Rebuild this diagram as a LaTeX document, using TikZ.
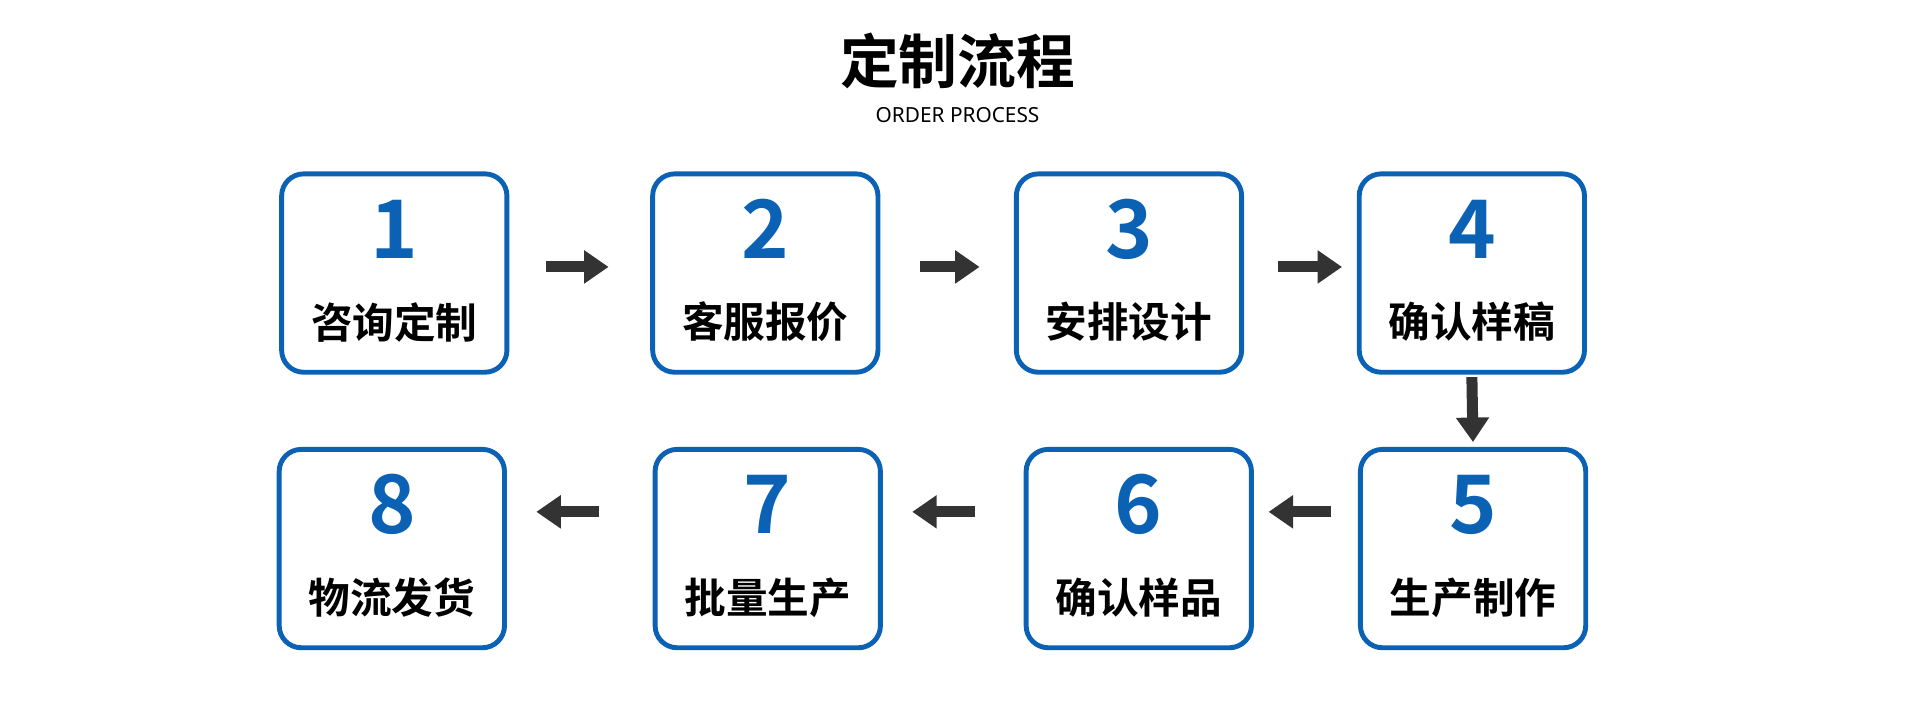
\documentclass[tikz,border=0pt]{standalone}
\usepackage{fontspec}
\setmainfont{Noto Sans}
\newfontfamily\cjk{Noto Sans CJK SC}[BoldFont={* Bold}]
\usetikzlibrary{positioning,arrows.meta}
\definecolor{stepblue}{HTML}{0B62B5}
\definecolor{arrowgray}{HTML}{333333}
\tikzset{%
  stepbox/.style = {rectangle,draw=stepblue,line width=2pt,rounded corners=9pt,
        minimum width=92pt,minimum height=81pt},
  num/.style = {font=\cjk\fontsize{33}{33}\selectfont\bfseries,text=stepblue},
  lab/.style = {font=\cjk\fontsize{17}{17}\selectfont\bfseries},
  flow/.style = {-{Triangle[length=10pt,width=13pt]},line width=4.5pt,draw=arrowgray}
}
\begin{document}
\begin{tikzpicture}[x=0.5pt,y=-0.5pt]
  \useasboundingbox (0,0) rectangle (1568,572);
  \node[font=\cjk\fontsize{24}{24}\selectfont\bfseries] (title) at (782,50) {定制流程};
  \node[font=\fontsize{8.5}{8.5}\selectfont] (sub) at (782,94) {ORDER PROCESS};
  % top row
  \node[stepbox] (s1) at (322,223) {};
  \node[stepbox] (s2) at (625,223) {};
  \node[stepbox] (s3) at (922,223) {};
  \node[stepbox] (s4) at (1202,223) {};
  % bottom row
  \node[stepbox] (s5) at (1203,448) {};
  \node[stepbox] (s6) at (930,448) {};
  \node[stepbox] (s7) at (627,448) {};
  \node[stepbox] (s8) at (320,448) {};
  \foreach \n/\t in {1/咨询定制,2/客服报价,3/安排设计,4/确认样稿,
      5/生产制作,6/确认样品,7/批量生产,8/物流发货}{
    \node[num] (n\n) at ([yshift=18pt]s\n.center) {\n};
    \node[lab] (l\n) at ([yshift=-20pt]s\n.center) {\t};
  }
  \draw[flow,shorten <=15pt,shorten >=17pt] ([yshift=2.5pt]s1.east) -- ([yshift=2.5pt]s2.west);
  \draw[flow,shorten <=16pt,shorten >=14pt] ([yshift=2.5pt]s2.east) -- ([yshift=2.5pt]s3.west);
  \draw[flow,shorten <=14pt,shorten >=6pt] ([yshift=2.5pt]s3.east) -- ([yshift=2.5pt]s4.west);
  \draw[flow,shorten <=1pt,shorten >=2pt] (s4.south) -- (s5.north);
  \draw[flow,shorten <=11pt,shorten >=6pt] ([yshift=15pt]s5.west) -- ([yshift=15pt]s6.east);
  \draw[flow,shorten <=20pt,shorten >=12pt] ([yshift=15pt]s6.west) -- ([yshift=15pt]s7.east);
  \draw[flow,shorten <=22pt,shorten >=12pt] ([yshift=15pt]s7.west) -- ([yshift=15pt]s8.east);
\end{tikzpicture}
\end{document}
